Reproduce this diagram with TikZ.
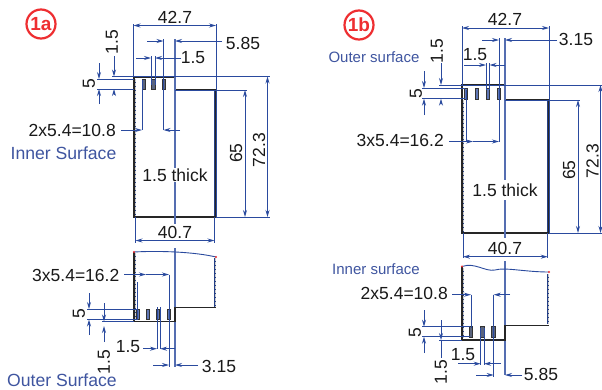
\documentclass[tikz,border=0pt]{standalone}
\usepackage{fontspec}
\setmainfont{Liberation Sans}
\usetikzlibrary{arrows.meta}
\definecolor{dimblue}{HTML}{2A4A9E}
\definecolor{labblue}{HTML}{3F55A0}
\definecolor{badgered}{HTML}{EE2E31}
\tikzset{
  dim/.style={draw=dimblue,line width=0.9pt},
  axisline/.style={draw=dimblue!80,line width=1.2pt},
  tipend/.style={dim,-{Stealth[length=7pt,width=4pt]}},
  bothtip/.style={dim,{Stealth[length=7pt,width=4pt]}-{Stealth[length=7pt,width=4pt]}},
  body/.style={draw=black!85,line width=1.1pt},
  wallbase/.style={draw=dimblue!85!black,line width=2pt},
  wallgap/.style={draw=white!80!black,line width=0.7pt,dash pattern=on 2.5pt off 1.5pt},
  slot/.style={draw=black!80,fill=black!55!dimblue!70,line width=0.8pt},
  slotb/.style={draw=black!80,fill=dimblue!75,line width=0.8pt},
  val/.style={inner sep=0pt,font=\fontsize{17.5}{17.5}\selectfont,text=black!90},
  vallr/.style={val,rotate=90},
  surf/.style={inner sep=0pt,text=labblue},
  badge/.style={circle,draw=badgered,line width=2.2pt,minimum size=29pt,inner sep=0pt,text=badgered,font=\fontsize{19}{19}\selectfont\bfseries},
  reddot/.style={fill=badgered},
}
\begin{document}
\begin{tikzpicture}[x=1pt,y=-1pt]
\path[use as bounding box,fill=white] (0,0) rectangle (602,389);
\clip (0,0) rectangle (602,389);
% ===== 1a top =====
\draw[wallbase] (135.4,79)--(135.4,217) (215,91)--(215,217);
\draw[wallgap] (135.4,79)--(135.4,217) (215,91)--(215,217);
\draw[body] (134,217)--(134,77)--(175,77)--(175,90)--(216,90)--(216,217)--cycle;
\foreach \x in {142,151.5,162}{\draw[slot] (\x,79) rectangle ++(3.5,10);}
\draw[dim] (133.5,24)--(133.5,77) (216,24)--(216,217);
\draw[bothtip] (133.5,25.5)--(216,25.5);
\draw[dim] (163.5,39)--(163.5,130);
\draw[axisline] (175,39)--(175,224) (175,248)--(175,367);
\draw[tipend] (147,41)--(163.5,41);
\draw[tipend] (222,41)--(175,41);
\draw[dim] (151,56)--(151,85) (155,56)--(155,85);
\draw[tipend] (136,58)--(151,58);
\draw[tipend] (181,58)--(155,58);
\draw[dim] (112,76.5)--(270,76.5) (97,79)--(134,79) (97,89)--(134,89);
\draw[tipend] (114,56)--(114,76.5);
\draw[tipend] (114,95)--(114,89);
\draw[tipend] (99,63)--(99,79);
\draw[tipend] (99,104)--(99,89);
\draw[dim] (142,80)--(142,130);
\draw[tipend] (121,130)--(142,130);
\draw[tipend] (180,130)--(163.5,130);
\draw[dim] (175,90)--(247,90) (216,217)--(270,217);
\draw[bothtip] (245,90)--(245,217);
\draw[bothtip] (267.5,76.5)--(267.5,217);
\draw[dim] (135.5,217)--(135.5,243) (214.5,217)--(214.5,243);
\draw[bothtip] (135.5,240.5)--(214.5,240.5);
% ===== 1a bottom =====
\draw[wallbase] (135.4,253)--(135.4,319) (215.4,258)--(215.4,307);
\draw[wallgap] (135.4,253)--(135.4,319) (215.4,258)--(215.4,307);
\draw[body] (134,252)--(134,321.7)--(175,321.7)--(175,307.7)--(216.4,307.7);
\draw[dim] (134,252) .. controls (160,250.5) and (195,252) .. (216,257);
\fill[reddot] (134,252) circle (1.2pt) (216,257) circle (1.2pt);
\foreach \x in {136.5,146.5,156.5,167}{\draw[slotb] (\x,309) rectangle ++(3.2,10.5);}
\draw[dim] (137.5,282)--(137.5,320);
\draw[dim] (169,274.5)--(169,367);
\draw[tipend] (124,274.5)--(146,274.5);
\draw[dim] (146,274.5)--(160,274.5);
\draw[tipend] (160,274.5)--(169,274.5);
\draw[dim] (87,309)--(137,309) (87,319.5)--(137,319.5) (102,321.5)--(134,321.5);
\draw[tipend] (89,293)--(89,309);
\draw[tipend] (89,335)--(89,319.5);
\draw[tipend] (104,303)--(104,321.5);
\draw[tipend] (104,342)--(104,326);
\draw[dim] (157,307)--(157,349) (160,307)--(160,349);
\draw[tipend] (143,348.7)--(157,348.7);
\draw[tipend] (175,348.7)--(160,348.7);
\draw[tipend] (153,365)--(169,365);
\draw[tipend] (198,365)--(175,365);
% ===== 1b top =====
\draw[wallbase] (463.4,100)--(463.4,233) (548,101)--(548,233);
\draw[wallgap] (463.4,100)--(463.4,233) (548,101)--(548,233);
\draw[body] (462,233)--(462,85)--(505,85)--(505,100)--(549,100)--(549,233)--cycle;
\foreach \x in {464.5,475,486.3,497.5}{\draw[slotb] (\x,88) rectangle ++(3.3,11);}
\draw[dim] (462,26)--(462,85) (549,26)--(549,233);
\draw[bothtip] (462,28)--(549,28);
\draw[dim] (499,38)--(499,141.5);
\draw[axisline] (505,38)--(505,180) (505,200)--(505,238) (505,261)--(505,375);
\draw[tipend] (482,40)--(499,40);
\draw[tipend] (557,40)--(505,40);
\draw[dim] (486,63)--(486,90) (489.5,63)--(489.5,90);
\draw[tipend] (464,65)--(486,65);
\draw[tipend] (505,65)--(489.5,65);
\draw[dim] (439,85)--(602,85) (422,88)--(465,88) (422,98.7)--(465,98.7);
\draw[tipend] (441,63)--(441,85);
\draw[tipend] (441,104)--(441,98.7);
\draw[tipend] (424,71)--(424,88);
\draw[tipend] (424,115)--(424,98.7);
\draw[dim] (466,90)--(466,141.5);
\draw[tipend] (449,141.5)--(473,141.5);
\draw[dim] (473,141.5)--(485,141.5);
\draw[tipend] (485,141.5)--(499,141.5);
\draw[dim] (505,100)--(580,100) (549,233)--(602,233);
\draw[bothtip] (578,100)--(578,233);
\draw[bothtip] (600.5,85)--(600.5,233);
\draw[dim] (463,233)--(463,258) (547.7,233)--(547.7,258);
\draw[bothtip] (463,256.7)--(547.7,256.7);
% ===== 1b bottom =====
\draw[wallbase] (463.4,268)--(463.4,338) (548.4,274)--(548.4,324);
\draw[wallgap] (463.4,268)--(463.4,338) (548.4,274)--(548.4,324);
\draw[body] (462,266.5)--(462,340)--(505,340)--(505,325.3)--(549.4,325.3);
\draw[dim] (462,266.5) .. controls (475,262) and (485,272) .. (495,270) .. controls (505,267) and (525,272) .. (549,272);
\fill[reddot] (462,266.5) circle (1.2pt) (549,272) circle (1.2pt);
\foreach \x in {469.3,480.8,491.8}{\draw[slot] (\x,326.7) rectangle ++(3.5,11);}
\draw[dim] (471,294.7)--(471,328) (493.7,294.7)--(493.7,377);
\draw[tipend] (452,294.7)--(471,294.7);
\draw[tipend] (510,294.7)--(493.7,294.7);
\draw[dim] (422,326.7)--(470,326.7) (422,336.7)--(470,336.7) (439,340)--(462,340);
\draw[tipend] (424,310)--(424,326.7);
\draw[tipend] (424,353)--(424,336.7);
\draw[tipend] (441,320)--(441,340);
\draw[dim] (441,340)--(441,358);
\draw[dim] (480.7,328)--(480.7,365) (484,328)--(484,365);
\draw[tipend] (458,363.7)--(480.7,363.7);
\draw[tipend] (501,363.7)--(484,363.7);
\draw[tipend] (476,375)--(493.7,375);
\draw[tipend] (522,375)--(505,375);
% ===== labels =====
\node[badge] (b1a) at (41,24) {1a};
\node[badge] (b1b) at (359,25) {1b};
\node[val] (a427) at (175,17) {42.7};
\node[val] (a585) at (243,43) {5.85};
\node[val] (a15h) at (193,58) {1.5};
\node[vallr] (a15v) at (112,42) {1.5};
\node[vallr] (a5) at (89,84) {5};
\node[val,anchor=east] (a108) at (116,130) {2x5.4=10.8};
\node[surf,font=\fontsize{17.6}{17.6}\selectfont] (ainner) at (63.5,153) {Inner Surface};
\node[val,fill=white,inner sep=1pt] (athick) at (175,175) {1.5 thick};
\node[vallr] (a65) at (236,153) {65};
\node[vallr] (a723) at (259,150) {72.3};
\node[val] (a407) at (175,232) {40.7};
\node[val,anchor=east] (a162) at (119.5,275) {3x5.4=16.2};
\node[vallr] (a5b) at (79,314) {5};
\node[vallr] (a15vb) at (104,362) {1.5};
\node[val] (a15hb) at (128,347) {1.5};
\node[val] (a315) at (219,366) {3.15};
\node[surf,font=\fontsize{17.6}{17.6}\selectfont] (aouter) at (62,380) {Outer Surface};
\node[val] (b427) at (505,19) {42.7};
\node[val] (b315) at (576,39) {3.15};
\node[val] (b15h) at (475,55) {1.5};
\node[vallr] (b15v) at (437,51) {1.5};
\node[surf,font=\fontsize{15}{15}\selectfont] (bouter) at (374,57) {Outer surface};
\node[vallr] (b5) at (416,94) {5};
\node[val,anchor=east] (b162) at (444,140) {3x5.4=16.2};
\node[val,fill=white,inner sep=1pt] (bthick) at (505,190) {1.5 thick};
\node[vallr] (b65) at (569,170) {65};
\node[vallr] (b723) at (592.5,161) {72.3};
\node[val] (b407) at (505,248) {40.7};
\node[surf,font=\fontsize{15}{15}\selectfont] (binner) at (376,269) {Inner surface};
\node[val,anchor=east] (b108) at (448,293) {2x5.4=10.8};
\node[vallr] (b5b) at (415,333) {5};
\node[vallr] (b15vb) at (441,372) {1.5};
\node[val] (b15hb) at (463,355) {1.5};
\node[val] (b585) at (541,374) {5.85};
\end{tikzpicture}
\end{document}
